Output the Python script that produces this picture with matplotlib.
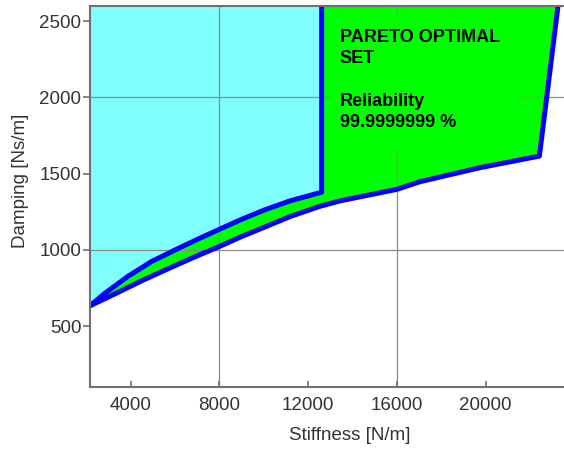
import matplotlib
matplotlib.use("Agg")
import matplotlib.pyplot as plt
from matplotlib.patches import Rectangle

plt.rcParams['font.family'] = ['Liberation Sans', 'DejaVu Sans']

# left (upper) edge of the optimal set, then straight up to the top
upper_x = [2170, 2850, 3900, 4950, 6300, 7000, 8000, 9000, 10000, 11200, 12610, 12610]
upper_y = [633, 716, 828, 924, 1020, 1068, 1135, 1200, 1260, 1322, 1378, 2600]

# lower edge of the optimal set, then the right border up to the top
lower_x = [2170, 3450, 4500, 5600, 6830, 8000, 9000, 10000, 11200, 12500, 13430,
           16000, 17040, 19740, 22420, 23260]
lower_y = [633, 722, 797, 870, 950, 1022, 1087, 1147, 1219, 1284, 1321,
           1397, 1447, 1539, 1615, 2600]

x_ticks = [4000, 8000, 12000, 16000, 20000]
y_ticks = [500, 1000, 1500, 2000, 2500]
x_grid = [8000, 16000]
y_grid = [1000, 2000]
x_lim = (2170, 23530)
y_lim = (100, 2600)

label_text = "PARETO OPTIMAL\nSET\n\nReliability\n99.9999999 %"

cyan = '#80ffff'
green = '#00ff00'
blue = '#0000ff'
axis_gray = '#707070'
text_gray = '#333333'

fig = plt.figure(figsize=(5.64, 4.5), dpi=100)
ax = fig.add_axes([0.1596, 0.14, 0.8404, 0.8467])

# cyan region: left of the optimal set
cx = [x_lim[0]] + upper_x[::-1] + [x_lim[0]]
cy = [y_lim[1]] + upper_y[::-1] + [upper_y[0]]
ax.fill(cx, cy, color=cyan, lw=0, zorder=1)

# green region: the optimal set itself
gx = upper_x + lower_x[::-1]
gy = upper_y + lower_y[::-1]
ax.fill(gx, gy, color=green, lw=0, zorder=1)

ax.plot(upper_x, upper_y, color=blue, lw=3.6, zorder=2, solid_capstyle='butt')
ax.plot(lower_x, lower_y, color=blue, lw=3.6, zorder=2, solid_capstyle='butt')

# grid only every other tick
for gxv in x_grid:
    ax.axvline(gxv, color='#8c8c8c', lw=0.9, zorder=1.5)
for gyv in y_grid:
    ax.axhline(gyv, color='#8c8c8c', lw=0.9, zorder=1.5)

# green box behind the label hides the grid
ax.add_patch(Rectangle((0.511, 0.617), 0.40, 0.359, transform=ax.transAxes,
                       facecolor=green, edgecolor='none', zorder=1.8))
ax.text(13430, 2450, label_text, fontsize=13, fontweight='bold',
        color='black', va='top', ha='left', linespacing=1.33, zorder=3)

ax.set_xlim(*x_lim)
ax.set_ylim(*y_lim)
ax.set_xticks(x_ticks)
ax.set_yticks(y_ticks)
ax.tick_params(axis='x', direction='in', length=4.5, width=1.2, color=axis_gray,
               labelsize=13.5, labelcolor=text_gray, pad=7.5)
ax.tick_params(axis='y', direction='out', length=5, width=1.2, color=axis_gray,
               labelsize=13.5, labelcolor=text_gray, pad=1.2)

for side in ['left', 'bottom', 'top']:
    ax.spines[side].set_color(axis_gray)
    ax.spines[side].set_linewidth(1.5)
    ax.spines[side].set_zorder(4)
ax.spines['right'].set_visible(False)

ax.set_xlabel("Stiffness [N/m]", fontsize=13.5, color=text_gray)
ax.set_ylabel("Damping [Ns/m]", fontsize=13.5, color=text_gray)
ax.xaxis.set_label_coords(0.548, -0.106)
ax.yaxis.set_label_coords(-0.128, 0.54)

fig.savefig('out.png', dpi=100)
